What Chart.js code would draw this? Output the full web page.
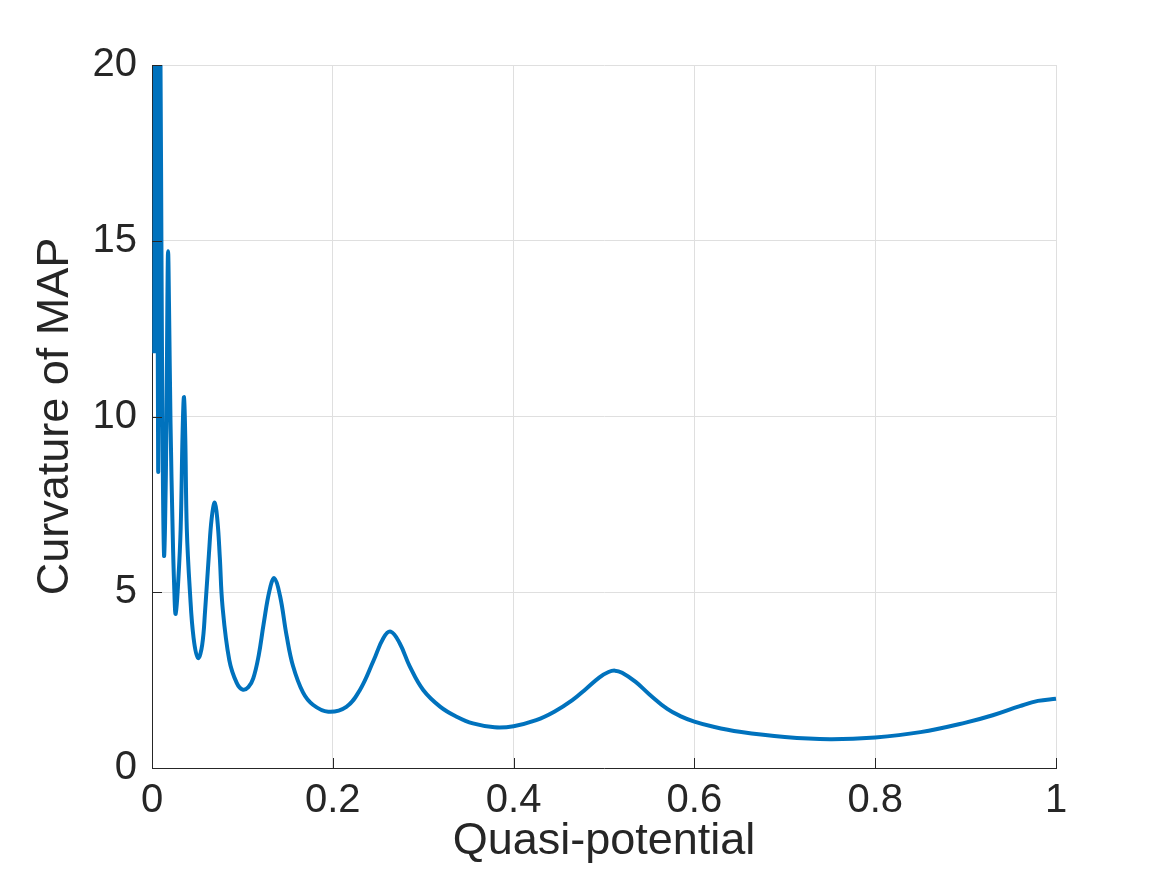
<!DOCTYPE html>
<html>
<head>
<meta charset="utf-8">
<script src="https://cdn.jsdelivr.net/npm/chart.js@4"></script>
<style>
html,body{margin:0;padding:0;background:#fff;}
#wrap{width:1167px;height:875px;position:relative;}
</style>
</head>
<body>
<div id="wrap"><canvas id="c" width="1167" height="875"></canvas></div>
<script>
// Quasi-potential (x) values
const quasiPotential = [
  0.0025, 0.0035, 0.0046, 0.0056, 0.0068, 0.0080, 0.0092, 0.0104, 0.0118,
  0.0133, 0.0145, 0.0160, 0.0170, 0.0178, 0.0188, 0.0205, 0.0228, 0.0245,
  0.0262, 0.0291, 0.0317, 0.0339, 0.0354, 0.0368, 0.0385, 0.0420, 0.0460,
  0.0510, 0.0555, 0.0588, 0.0630, 0.0660, 0.0695, 0.0725, 0.0750, 0.0780, 0.0855, 0.0937,
  0.1003, 0.1066, 0.1120, 0.1180, 0.1235, 0.1300, 0.1353, 0.1416, 0.1490, 0.1560, 0.1670, 0.1780,
  0.1950, 0.2150, 0.2300, 0.2450, 0.2560, 0.2640, 0.2740, 0.2850, 0.3000, 0.3190, 0.3370, 0.3550,
  0.3790, 0.4000, 0.4250, 0.4450, 0.4650, 0.4800, 0.4950, 0.5050, 0.5120, 0.5200, 0.5350, 0.5500,
  0.5700, 0.5850, 0.6000, 0.6200, 0.6500, 0.7000, 0.7500, 0.8000, 0.8500, 0.9000, 0.9300, 0.9600,
  0.9800, 1.0000
];
// Curvature of MAP (y) values
const curvature = [
  11.8, 22, 29, 19, 8.5, 14, 20.8, 15, 9,
  6.06, 7.0, 9.8, 13.2, 14.7, 13.2, 9.8, 6.8, 5.2,
  4.38, 5.35, 6.8, 9.6, 10.55, 9.4, 6.8, 5.0, 3.7,
  3.13, 3.5, 4.5, 6.1, 7.1, 7.55, 7.0, 6.0, 4.6, 3.07, 2.42,
  2.23, 2.3, 2.55, 3.2, 4.1, 5.05, 5.4, 4.9, 3.75, 2.9, 2.15, 1.8,
  1.6, 1.74, 2.22, 3.05, 3.7, 3.88, 3.55, 2.9, 2.22, 1.74, 1.46, 1.27,
  1.16, 1.19, 1.36, 1.6, 1.93, 2.25, 2.58, 2.73, 2.77, 2.71, 2.45, 2.1,
  1.68, 1.47, 1.32, 1.18, 1.03, 0.88, 0.82, 0.87, 1.02, 1.29, 1.5, 1.76,
  1.91, 1.97
];
const xTickValues = [0, 0.2, 0.4, 0.6, 0.8, 1];
const xTickLabels = ['0', '0.2', '0.4', '0.6', '0.8', '1'];
const yTickValues = [0, 5, 10, 15, 20];
const yTickLabels = ['0', '5', '10', '15', '20'];

const points = quasiPotential.map((x, i) => ({x: x, y: curvature[i]}));

const FONT = "'Liberation Sans', Arial, Helvetica, sans-serif";
const TEXT = '#262626';

const inwardTicks = {
  id: 'inwardTicks',
  afterDatasetsDraw(chart) {
    const ctx = chart.ctx;
    const xs = chart.scales.x, ys = chart.scales.y;
    const a = chart.chartArea;
    ctx.save();
    ctx.strokeStyle = '#262626';
    ctx.lineWidth = 1;
    ctx.beginPath();
    xTickValues.forEach(v => {
      const px = Math.round(xs.getPixelForValue(v)) + 0.5;
      ctx.moveTo(px, a.bottom);
      ctx.lineTo(px, a.bottom - 10);
    });
    yTickValues.forEach(v => {
      const py = Math.round(ys.getPixelForValue(v)) + 0.5;
      ctx.moveTo(a.left, py);
      ctx.lineTo(a.left + 10, py);
    });
    ctx.stroke();
    ctx.restore();
  }
};

new Chart(document.getElementById('c'), {
  type: 'line',
  data: {
    datasets: [{
      data: points,
      borderColor: '#0072BD',
      borderWidth: 4,
      pointRadius: 0,
      fill: false,
      tension: 0.4,
      clip: {left: 2, top: 0, right: 2, bottom: 2}
    }]
  },
  options: {
    responsive: false,
    animation: false,
    devicePixelRatio: 1,
    layout: {padding: {top: 65, right: 111, left: 0, bottom: 0}},
    plugins: {legend: {display: false}, tooltip: {enabled: false}},
    scales: {
      x: {
        type: 'linear',
        min: 0, max: 1,
        afterBuildTicks(scale) { scale.ticks = xTickValues.map(v => ({value: v})); },
        afterFit(scale) { scale.height = 107; },
        ticks: {
          callback: (v) => { const i = xTickValues.indexOf(v); return i >= 0 ? xTickLabels[i] : ''; },
          font: {family: FONT, size: 40},
          color: TEXT,
          padding: 9,
          maxRotation: 0,
          autoSkip: false
        },
        grid: {color: '#dfdfdf', drawTicks: false, lineWidth: 1},
        border: {display: true, color: '#262626', width: 1},
        title: {
          display: true,
          text: 'Quasi-potential',
          font: {family: FONT, size: 45},
          color: TEXT,
          padding: {top: 0, bottom: 6}
        }
      },
      y: {
        type: 'linear',
        min: 0, max: 20,
        afterBuildTicks(scale) { scale.ticks = yTickValues.map(v => ({value: v})); },
        afterFit(scale) { scale.width = 152; },
        ticks: {
          callback: (v) => { const i = yTickValues.indexOf(v); return i >= 0 ? yTickLabels[i] : ''; },
          font: {family: FONT, size: 40},
          color: TEXT,
          padding: 15,
          autoSkip: false
        },
        grid: {color: '#dfdfdf', drawTicks: false, lineWidth: 1},
        border: {display: true, color: '#262626', width: 1},
        title: {
          display: true,
          text: 'Curvature of MAP',
          font: {family: FONT, size: 45},
          color: TEXT,
          padding: {top: 29, bottom: 0}
        }
      }
    }
  },
  plugins: [inwardTicks]
});
</script>
</body>
</html>
